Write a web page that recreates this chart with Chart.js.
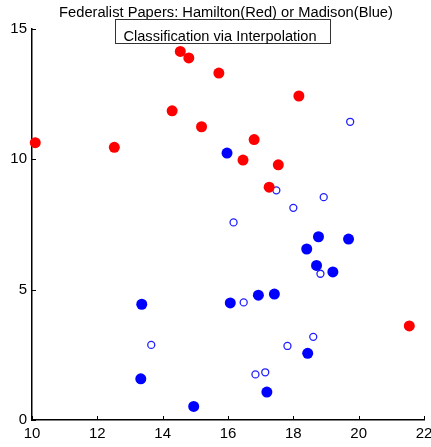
<!DOCTYPE html>
<html>
<head>
<meta charset="utf-8">
<script src="https://cdn.jsdelivr.net/npm/chart.js@4.4.1/dist/chart.umd.min.js"></script>
<style>
  html, body { margin: 0; padding: 0; background: #fff; }
  #wrap { width: 431px; height: 447px; }
</style>
</head>
<body>
<div id="wrap"><canvas id="fedChart" width="431" height="447"></canvas></div>
<script>
// Hamilton papers (red)
const hamiltonX = [10.10, 12.52, 14.54, 14.80, 15.72, 14.29, 15.19, 18.17, 16.80, 16.46, 17.54, 17.26, 21.55];
const hamiltonY = [10.64, 10.46, 14.14, 13.89, 13.31, 11.86, 11.25, 12.43, 10.76, 9.97, 9.79, 8.93, 3.61];

// Madison papers (blue, filled)
const madisonX = [15.97, 13.36, 16.07, 13.33, 14.95, 18.77, 19.69, 18.41, 18.71, 19.21, 16.93, 17.42, 18.44, 17.19];
const madisonY = [10.24, 4.44, 4.49, 1.58, 0.52, 7.03, 6.94, 6.56, 5.93, 5.68, 4.79, 4.83, 2.56, 1.07];

// disputed papers, classified by interpolation (blue, open)
const disputedX = [19.74, 17.48, 18.93, 18.00, 16.17, 13.65, 18.83, 16.48, 18.61, 17.82, 17.14, 16.84];
const disputedY = [11.44, 8.81, 8.55, 8.14, 7.58, 2.88, 5.61, 4.51, 3.19, 2.84, 1.83, 1.75];

const xTicks = [10, 12, 14, 16, 18, 20, 22];
const yTicks = [0, 5, 10, 15];

const titleText = 'Federalist Papers: Hamilton(Red) or Madison(Blue)';
const legendText = 'Classification via Interpolation';

const FONT = "'Liberation Sans', Arial, sans-serif";

function toPoints(xs, ys) {
    return xs.map((x, i) => ({ x: x, y: ys[i] }));
}

// title, boxed caption and inward tick marks
const decorations = {
    id: 'decorations',
    afterDraw(chart) {
        const ctx = chart.ctx;
        const xs = chart.scales.x;
        const ys = chart.scales.y;
        const area = chart.chartArea;
        ctx.save();

        ctx.strokeStyle = '#000';
        ctx.lineWidth = 1;
        ctx.beginPath();
        xTicks.forEach(v => {
            const px = Math.round(xs.getPixelForValue(v)) + 0.5;
            ctx.moveTo(px, area.bottom);
            ctx.lineTo(px, area.bottom - 4);
        });
        yTicks.forEach(v => {
            const py = Math.round(ys.getPixelForValue(v)) + 0.5;
            ctx.moveTo(area.left, py);
            ctx.lineTo(area.left + 4, py);
        });
        ctx.stroke();

        ctx.fillStyle = '#000';
        ctx.textAlign = 'center';
        ctx.textBaseline = 'alphabetic';
        ctx.font = '14.7px ' + FONT;
        ctx.fillText(titleText, 226, 17);

        ctx.strokeStyle = '#333';
        ctx.strokeRect(115.5, 19.5, 215, 24);
        ctx.font = '14.6px ' + FONT;
        ctx.fillText(legendText, 220, 40.5);

        ctx.restore();
    }
};

const ctx = document.getElementById('fedChart').getContext('2d');
new Chart(ctx, {
    type: 'scatter',
    data: {
        datasets: [
            {
                label: 'Hamilton',
                data: toPoints(hamiltonX, hamiltonY),
                backgroundColor: '#ff0000',
                borderColor: '#ff0000',
                pointRadius: 5.5,
                borderWidth: 0,
                clip: false
            },
            {
                label: 'Madison',
                data: toPoints(madisonX, madisonY),
                backgroundColor: '#0000ff',
                borderColor: '#0000ff',
                pointRadius: 5.5,
                borderWidth: 0,
                clip: false
            },
            {
                label: 'Disputed',
                data: toPoints(disputedX, disputedY),
                backgroundColor: 'rgba(255,255,255,0)',
                borderColor: '#2020ff',
                pointRadius: 3.5,
                borderWidth: 1.3,
                clip: false
            }
        ]
    },
    options: {
        responsive: false,
        animation: false,
        events: [],
        layout: { padding: { top: 29, right: 7, left: 0, bottom: 0 } },
        plugins: {
            legend: { display: false },
            title: { display: false },
            tooltip: { enabled: false }
        },
        scales: {
            x: {
                type: 'linear',
                min: 10,
                max: 22,
                afterBuildTicks: s => { s.ticks = xTicks.map(v => ({ value: v })); },
                afterFit: s => { s.height = 27; s.paddingLeft = 0; s.paddingRight = 0; },
                grid: { display: true, drawOnChartArea: false, drawTicks: false },
                border: { display: true, color: '#000', width: 1.5 },
                ticks: { color: '#000', padding: 5, font: { family: FONT, size: 15 }, maxRotation: 0 }
            },
            y: {
                type: 'linear',
                min: 0,
                max: 15,
                afterBuildTicks: s => { s.ticks = yTicks.map(v => ({ value: v })); },
                afterFit: s => { s.width = 32; s.paddingTop = 0; s.paddingBottom = 0; },
                grid: { display: true, drawOnChartArea: false, drawTicks: false },
                border: { display: true, color: '#000', width: 1.5 },
                ticks: { color: '#000', padding: 5, font: { family: FONT, size: 15 } }
            }
        }
    },
    plugins: [decorations]
});
</script>
</body>
</html>
